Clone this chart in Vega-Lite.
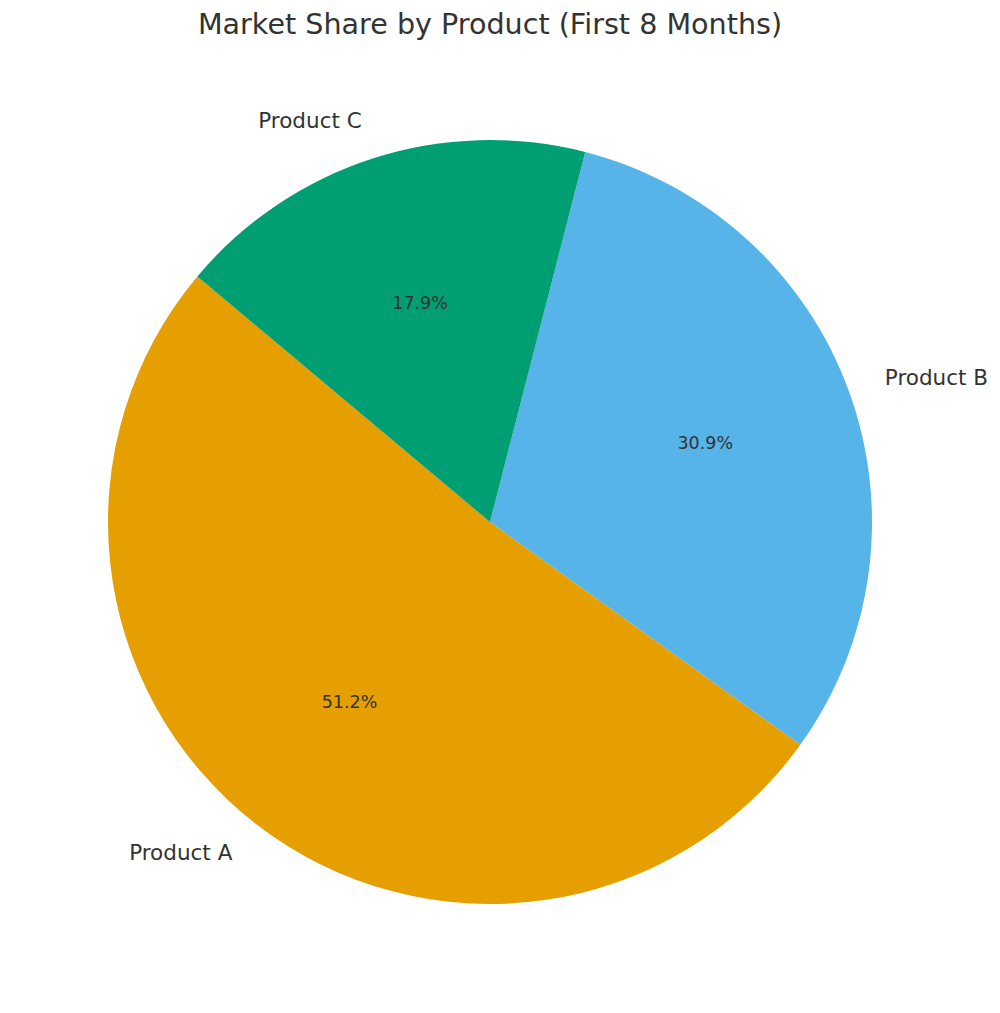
{
  "$schema": "https://vega.github.io/schema/vega-lite/v6.json",
  "description": "Pie chart of market share by product over the first 8 months.",
  "autosize": "none",
  "width": 980,
  "height": 924,
  "padding": {"top": 60, "left": 0, "right": 20, "bottom": 29},
  "background": "white",
  "config": {
    "view": {"stroke": null},
    "font": "DejaVu Sans",
    "title": {"font": "DejaVu Sans", "fontSize": 28.6, "fontWeight": "normal", "color": "#333333", "anchor": "middle", "baseline": "alphabetic", "offset": 20}
  },
  "title": "Market Share by Product (First 8 Months)",
  "data": {
    "values": [
      {"product": "Product A", "share": 0.512, "ord": 3},
      {"product": "Product B", "share": 0.309, "ord": 2},
      {"product": "Product C", "share": 0.179, "ord": 1}
    ]
  },
  "encoding": {
    "theta": {"field": "share", "type": "quantitative", "stack": true, "scale": {"range": [-0.872665, 5.410521]}},
    "order": {"field": "ord", "type": "quantitative"}
  },
  "layer": [
    {
      "mark": {"type": "arc", "outerRadius": 382},
      "encoding": {
        "color": {
          "field": "product",
          "type": "nominal",
          "scale": {"domain": ["Product A", "Product B", "Product C"], "range": ["#E69F00", "#56B4E9", "#009E73"]},
          "legend": null
        }
      }
    },
    {
      "mark": {"type": "text", "radius": 420, "fontSize": 21.5, "color": "#333333", "baseline": "middle",
        "align": {"expr": "datum.product == 'Product B' ? 'left' : 'right'"}},
      "encoding": {"text": {"field": "product", "type": "nominal"}}
    },
    {
      "mark": {"type": "text", "radius": 229, "fontSize": 17.5, "color": "#333333", "baseline": "middle", "align": "center"},
      "encoding": {"text": {"field": "share", "type": "quantitative", "format": ".1%"}}
    }
  ]
}
